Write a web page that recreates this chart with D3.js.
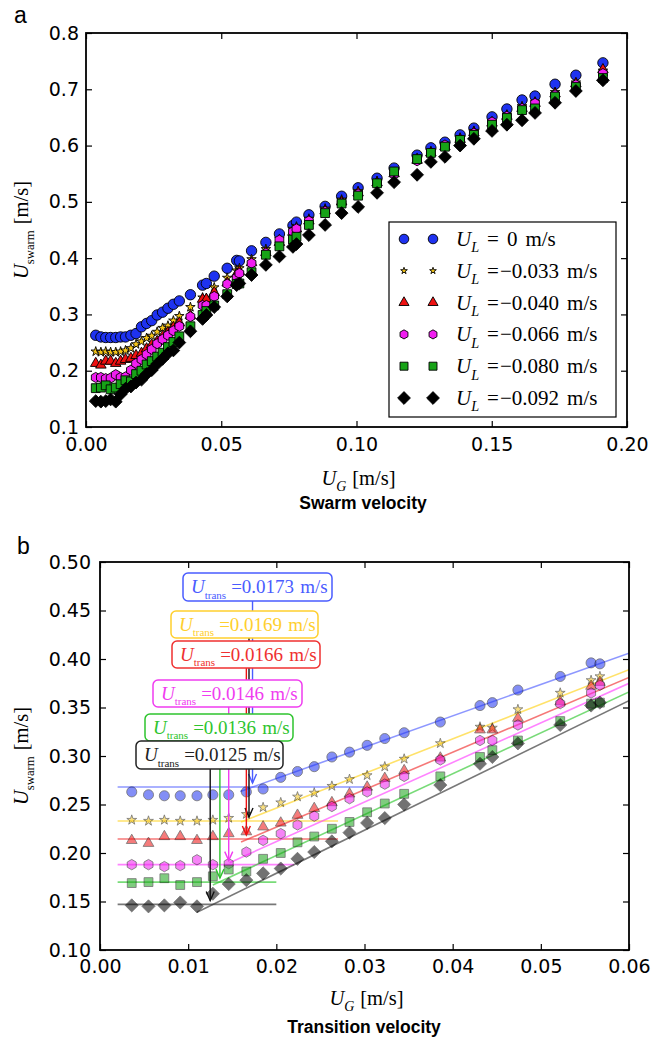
<!DOCTYPE html>
<html>
<head>
<meta charset="utf-8">
<script src="https://cdn.jsdelivr.net/npm/d3@7"></script>
<style>
  body { margin: 0; background: #fff; }
  svg { display: block; }
  .tick text { font-family: "DejaVu Sans", sans-serif; font-size: 19px; fill: #000; }
  .tick line { stroke: #000; stroke-width: 1.2; }
  .math { font-family: "Liberation Serif", serif; }
</style>
</head>
<body>
<svg id="chart" width="656" height="1042"></svg>
<script>
// ---- gas superficial velocity U_G [m/s] shared by all runs ----
const ug = [0.0036, 0.0055, 0.0073, 0.0091, 0.0110, 0.0128, 0.0146, 0.0166, 0.0185, 0.0205,
  0.0224, 0.0243, 0.0263, 0.0283, 0.0303, 0.0323, 0.0345, 0.0386, 0.0431, 0.0445,
  0.0474, 0.0522, 0.0557, 0.0567, 0.0612, 0.0665, 0.0715, 0.0765, 0.0778, 0.0824,
  0.0884, 0.0945, 0.1006, 0.1076, 0.1139, 0.1224, 0.1275, 0.1327, 0.1383, 0.1434,
  0.1501, 0.1556, 0.1612, 0.1660, 0.1734, 0.1811, 0.1911];

// ---- swarm velocity U_swarm [m/s] for each liquid velocity ----
const uSwarmL0000 = [0.263, 0.260, 0.259, 0.259, 0.259, 0.260, 0.260, 0.263, 0.266, 0.278,
  0.284, 0.289, 0.299, 0.304, 0.311, 0.318, 0.324, 0.335, 0.352, 0.355,
  0.368, 0.382, 0.396, 0.395, 0.413, 0.428, 0.443, 0.458, 0.464, 0.477,
  0.492, 0.510, 0.525, 0.542, 0.560, 0.583, 0.596, 0.606, 0.619, 0.631,
  0.651, 0.665, 0.681, 0.688, 0.709, 0.725, 0.747];
const uSwarmL0033 = [0.234, 0.233, 0.234, 0.233, 0.233, 0.234, 0.236, 0.240, 0.247, 0.252,
  0.258, 0.262, 0.269, 0.276, 0.280, 0.289, 0.297, 0.313, 0.330, 0.329,
  0.348, 0.365, 0.378, 0.382, 0.398, 0.416, 0.434, 0.452, 0.456, 0.470,
  0.488, 0.504, 0.519, 0.537, 0.553, 0.578, 0.590, 0.600, 0.614, 0.626,
  0.643, 0.655, 0.670, 0.678, 0.695, 0.712, 0.733];
const uSwarmL0040 = [0.213, 0.210, 0.217, 0.217, 0.213, 0.217, 0.220, 0.222, 0.227, 0.231,
  0.239, 0.246, 0.252, 0.261, 0.268, 0.277, 0.285, 0.298, 0.327, 0.327,
  0.339, 0.356, 0.372, 0.376, 0.392, 0.410, 0.428, 0.446, 0.452, 0.466,
  0.484, 0.500, 0.516, 0.534, 0.550, 0.574, 0.587, 0.598, 0.611, 0.623,
  0.640, 0.652, 0.666, 0.675, 0.692, 0.710, 0.735];
const uSwarmL0066 = [0.188, 0.188, 0.186, 0.187, 0.193, 0.188, 0.189, 0.201, 0.213, 0.220,
  0.229, 0.238, 0.248, 0.256, 0.263, 0.271, 0.279, 0.296, 0.316, 0.316,
  0.332, 0.354, 0.365, 0.373, 0.391, 0.409, 0.432, 0.447, 0.452, 0.466,
  0.483, 0.498, 0.514, 0.533, 0.549, 0.573, 0.586, 0.601, 0.610, 0.622,
  0.642, 0.652, 0.666, 0.675, 0.690, 0.708, 0.728];
const uSwarmL0080 = [0.169, 0.170, 0.174, 0.167, 0.170, 0.176, 0.183, 0.181, 0.194, 0.200,
  0.211, 0.217, 0.225, 0.232, 0.242, 0.251, 0.261, 0.279, 0.299, 0.306,
  0.316, 0.336, 0.354, 0.355, 0.375, 0.406, 0.421, 0.433, 0.438, 0.459,
  0.480, 0.497, 0.511, 0.533, 0.554, 0.576, 0.587, 0.598, 0.610, 0.619,
  0.637, 0.649, 0.663, 0.666, 0.687, 0.704, 0.720];
const uSwarmL0092 = [0.146, 0.145, 0.146, 0.149, 0.145, 0.158, 0.168, 0.172, 0.179, 0.184,
  0.194, 0.201, 0.212, 0.221, 0.231, 0.236, 0.250, 0.270, 0.292, 0.299,
  0.313, 0.332, 0.352, 0.355, 0.370, 0.388, 0.403, 0.420, 0.425, 0.441,
  0.459, 0.480, 0.491, 0.516, 0.535, 0.548, 0.571, 0.580, 0.600, 0.612,
  0.626, 0.637, 0.645, 0.658, 0.676, 0.697, 0.716];

const uLiquidLabels = ["0", "\u22120.033", "\u22120.040", "\u22120.066", "\u22120.080", "\u22120.092"];

// ---- transition analysis (panel b) ----
const uTrans        = [0.0173, 0.0169, 0.0166, 0.0146, 0.0136, 0.0125];
const uTransLabels  = ["0.0173", "0.0169", "0.0166", "0.0146", "0.0136", "0.0125"];
const plateauLevel  = [0.268, 0.233, 0.2145, 0.188, 0.170, 0.147];
const plateauFrom   = [0.002, 0.002, 0.002, 0.002, 0.002, 0.002];
const plateauTo     = [0.030, 0.027, 0.027, 0.022, 0.020, 0.020];
const fitFromUg     = [0.0159, 0.0160, 0.0160, 0.0147, 0.0128, 0.0110];
const fitFromValue  = [0.2635, 0.232, 0.2113, 0.190, 0.167, 0.139];
const fitToUg       = [0.060, 0.060, 0.060, 0.060, 0.060, 0.060];
const fitToValue    = [0.406, 0.389, 0.381, 0.375, 0.366, 0.357];

// ---- tick values ----
const xTicksA = [0, 0.05, 0.10, 0.15, 0.20];
const yTicksA = [0.1, 0.2, 0.3, 0.4, 0.5, 0.6, 0.7, 0.8];
const xTicksB = [0, 0.01, 0.02, 0.03, 0.04, 0.05, 0.06];
const yTicksB = [0.10, 0.15, 0.20, 0.25, 0.30, 0.35, 0.40, 0.45, 0.50];

const seriesValues = [uSwarmL0000, uSwarmL0033, uSwarmL0040, uSwarmL0066, uSwarmL0080, uSwarmL0092];

// ---- styling ----
const markerColors = ["#1e32f0", "#f5c518", "#ee1111", "#f01ef0", "#17a317", "#000000"];
const boxColors    = ["#4a5cff", "#ffcf2e", "#ef3030", "#f03cf0", "#2ec42e", "#222222"];
const arrowColors  = ["#4a5cff", "#111111", "#ee1111", "#f03cf0", "#2ec42e", "#111111"];
const lineColors   = ["#5060ff", "#ffd21a", "#f03030", "#ff40ff", "#30c830", "#303030"];

const hexagon = {
  draw(ctx, size) {
    const r = Math.sqrt(size / 2.598);
    for (let k = 0; k < 6; k++) {
      const a = -Math.PI / 2 + k * Math.PI / 3;
      if (k === 0) ctx.moveTo(r * Math.cos(a), r * Math.sin(a));
      else ctx.lineTo(r * Math.cos(a), r * Math.sin(a));
    }
    ctx.closePath();
  }
};
const diamond = {
  draw(ctx, size) {
    const r = Math.sqrt(size / 2);
    ctx.moveTo(0, -r); ctx.lineTo(r, 0); ctx.lineTo(0, r); ctx.lineTo(-r, 0); ctx.closePath();
  }
};
const symbolTypes = [d3.symbolCircle, d3.symbolStar, d3.symbolTriangle, hexagon, d3.symbolSquare, diamond];
const sizesA      = [85, 28, 48, 66, 78, 82];
const sizesLegend = [72, 14, 44, 54, 64, 82];
const sizesB      = [80, 30, 50, 70, 78, 86];

const svg = d3.select("#chart");

// writes U_sub-style math text into a <text> element using tspans
function addMath(text, parts, size) {
  let shift = 0;
  parts.forEach(p => {
    const ts = text.append("tspan").text(p.t);
    const target = p.sub ? size * 0.3 : 0;
    let dy = target - shift;
    if (dy !== 0) ts.attr("dy", dy);
    shift = target;
    if (p.it) ts.attr("font-style", "italic");
    if (p.sub) ts.attr("font-size", size * (p.subScale || 0.68));
    if (p.dx) ts.attr("dx", p.dx);
  });
}

function drawFrame(g, x, y, xTicks, yTicks, xFmt, yFmt, xPad, yPad) {
  const [x0, x1] = x.range();
  const [y0, y1] = y.range();
  g.append("g").attr("transform", `translate(0,${y0})`)
    .call(d3.axisBottom(x).tickValues(xTicks).tickFormat(xFmt).tickSizeInner(-6).tickSizeOuter(0).tickPadding(xPad));
  g.append("g").attr("transform", `translate(0,${y1})`)
    .call(d3.axisTop(x).tickValues(xTicks).tickFormat("").tickSizeInner(-6).tickSizeOuter(0));
  g.append("g").attr("transform", `translate(${x0},0)`)
    .call(d3.axisLeft(y).tickValues(yTicks).tickFormat(yFmt).tickSizeInner(-6).tickSizeOuter(0).tickPadding(yPad));
  g.append("g").attr("transform", `translate(${x1},0)`)
    .call(d3.axisRight(y).tickValues(yTicks).tickFormat("").tickSizeInner(-6).tickSizeOuter(0));
  g.selectAll(".domain").remove();
  g.append("rect")
    .attr("x", x0).attr("y", y1).attr("width", x1 - x0).attr("height", y0 - y1)
    .attr("fill", "none").attr("stroke", "#000").attr("stroke-width", 1.8);
}

function axisTitles(g, x, y, xBase, yBase) {
  const [x0, x1] = x.range();
  const [y0, y1] = y.range();
  const tx = g.append("text").attr("class", "math").attr("font-size", 20.5)
    .attr("x", (x0 + x1) / 2 + 2).attr("y", xBase).attr("text-anchor", "middle");
  addMath(tx, [{t: "U", it: true}, {t: "G", it: true, sub: true}, {t: "[m/s]", dx: 6}], 20.5);
  const ty = g.append("text").attr("class", "math").attr("font-size", 20.5)
    .attr("transform", `translate(${yBase},${(y0 + y1) / 2}) rotate(-90)`).attr("text-anchor", "middle");
  addMath(ty, [{t: "U", it: true}, {t: "swarm", sub: true, subScale: 0.62}, {t: "[m/s]", dx: 6}], 20.5);
}

// ================= Panel a: swarm velocity =================
const xa = d3.scaleLinear().domain([0, 0.2]).range([86, 627]);
const ya = d3.scaleLinear().domain([0.1, 0.8]).range([427, 33]);
const ga = svg.append("g");

seriesValues.forEach((vals, i) => {
  const sym = d3.symbol().type(symbolTypes[i]).size(sizesA[i]);
  ga.append("g").selectAll("path").data(vals.map((v, k) => [ug[k], v])).join("path")
    .attr("transform", d => `translate(${xa(d[0])},${ya(d[1])})`)
    .attr("d", sym)
    .attr("fill", markerColors[i]).attr("stroke", "#000").attr("stroke-width", 0.9);
});

drawFrame(ga, xa, ya, xTicksA, yTicksA, d3.format(".2f"), d3.format(".1f"), 11, 7);
axisTitles(ga, xa, ya, 485, 28);

// legend
const leg = ga.append("g");
leg.append("rect").attr("x", 389).attr("y", 222).attr("width", 227).attr("height", 195)
  .attr("fill", "#fff").attr("stroke", "#000").attr("stroke-width", 1.2);
uLiquidLabels.forEach((lab, i) => {
  const cy = 239 + i * 31.8;
  const sym = d3.symbol().type(symbolTypes[i]).size(sizesLegend[i]);
  [404, 433].forEach(cx => {
    leg.append("path").attr("transform", `translate(${cx},${cy})`).attr("d", sym)
      .attr("fill", markerColors[i]).attr("stroke", "#000").attr("stroke-width", 0.9);
  });
  const t = leg.append("text").attr("class", "math").attr("font-size", 21)
    .attr("x", 456).attr("y", cy + 7);
  addMath(t, [{t: "U", it: true}, {t: "L", it: true, sub: true},
              {t: "=", dx: 8}, {t: lab, dx: i === 0 ? 8 : 1}, {t: "m/s", dx: 8}], 21);
});

ga.append("text").attr("x", 14).attr("y", 23).attr("font-family", "Liberation Sans, Arial, sans-serif")
  .attr("font-size", 23).text("a");
ga.append("text").attr("x", 363).attr("y", 509).attr("text-anchor", "middle")
  .attr("font-family", "Liberation Sans, Arial, sans-serif").attr("font-weight", "bold")
  .attr("font-size", 17.5).text("Swarm velocity");

// ================= Panel b: transition velocity =================
const xb = d3.scaleLinear().domain([0, 0.06]).range([100, 629]);
const yb = d3.scaleLinear().domain([0.1, 0.5]).range([950, 562]);
const gb = svg.append("g");
const clip = svg.append("defs").append("clipPath").attr("id", "clipB");
clip.append("rect").attr("x", 100).attr("y", 562).attr("width", 529).attr("height", 388);
const plotB = gb.append("g").attr("clip-path", "url(#clipB)");

// plateau and linear-fit lines
seriesValues.forEach((vals, i) => {
  plotB.append("line")
    .attr("x1", xb(plateauFrom[i])).attr("x2", xb(plateauTo[i]))
    .attr("y1", yb(plateauLevel[i])).attr("y2", yb(plateauLevel[i]))
    .attr("stroke", lineColors[i]).attr("stroke-opacity", 0.65).attr("stroke-width", 1.6);
  plotB.append("line")
    .attr("x1", xb(fitFromUg[i])).attr("x2", xb(fitToUg[i]))
    .attr("y1", yb(fitFromValue[i])).attr("y2", yb(fitToValue[i]))
    .attr("stroke", lineColors[i]).attr("stroke-opacity", 0.65).attr("stroke-width", 1.6);
});

// measured points, translucent
seriesValues.forEach((vals, i) => {
  const sym = d3.symbol().type(symbolTypes[i]).size(sizesB[i]);
  const pts = vals.map((v, k) => [ug[k], v]).filter(d => d[0] <= 0.06);
  plotB.append("g").selectAll("path").data(pts).join("path")
    .attr("transform", d => `translate(${xb(d[0])},${yb(d[1])})`)
    .attr("d", sym)
    .attr("fill", markerColors[i]).attr("stroke", "#000").attr("stroke-width", 0.8)
    .attr("opacity", 0.55);
});

drawFrame(gb, xb, yb, xTicksB, yTicksB, d3.format(".2f"), d3.format(".2f"), 10, 9);
axisTitles(gb, xb, yb, 1005, 28);

// transition annotations: arrows first, boxes on top
const boxLayout = [
  {x: 183, y: 573, w: 149, h: 28},
  {x: 171, y: 611, w: 147, h: 27},
  {x: 172, y: 641, w: 148, h: 27},
  {x: 153, y: 680, w: 149, h: 27},
  {x: 145, y: 714, w: 148, h: 27},
  {x: 136, y: 741, w: 147, h: 28}
];
const ann = gb.append("g");
uTrans.forEach((t, i) => {
  const ax = xb(t);
  const tip = yb(plateauLevel[i]) - 4;
  ann.append("line").attr("x1", ax).attr("x2", ax)
    .attr("y1", boxLayout[i].y + boxLayout[i].h).attr("y2", tip)
    .attr("stroke", arrowColors[i]).attr("stroke-width", 1.4);
  ann.append("path").attr("d", `M${ax - 4},${tip - 9}L${ax},${tip}L${ax + 4},${tip - 9}`)
    .attr("fill", "none").attr("stroke", arrowColors[i]).attr("stroke-width", 1.4);
});
uTrans.forEach((t, i) => {
  const b = boxLayout[i];
  ann.append("rect").attr("x", b.x).attr("y", b.y).attr("width", b.w).attr("height", b.h)
    .attr("rx", 5).attr("fill", "#fff").attr("stroke", boxColors[i]).attr("stroke-width", 1.5);
  const tx = ann.append("text").attr("class", "math").attr("font-size", 19)
    .attr("x", b.x + 8).attr("y", b.y + b.h / 2 + 6).attr("fill", boxColors[i]);
  addMath(tx, [{t: "U", it: true}, {t: "trans", sub: true, subScale: 0.58},
               {t: "=" + uTransLabels[i], dx: 5}, {t: "m/s", dx: 6}], 19);
});

gb.append("text").attr("x", 17).attr("y", 554).attr("font-family", "Liberation Sans, Arial, sans-serif")
  .attr("font-size", 23).text("b");
gb.append("text").attr("x", 364).attr("y", 1033).attr("text-anchor", "middle")
  .attr("font-family", "Liberation Sans, Arial, sans-serif").attr("font-weight", "bold")
  .attr("font-size", 17.5).text("Transition velocity");
</script>
</body>
</html>
